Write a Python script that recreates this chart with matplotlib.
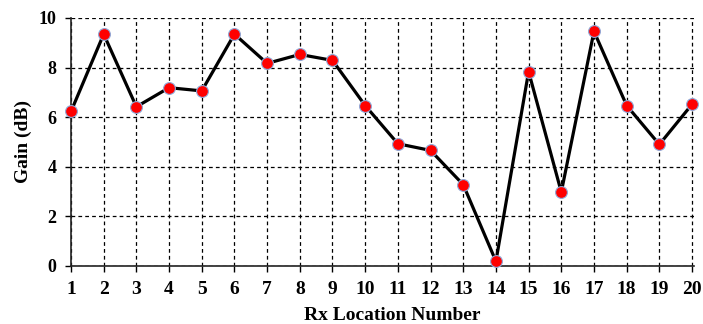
import numpy as np
import matplotlib
matplotlib.use('Agg')
from matplotlib import pyplot as plt

# data
rx_location = list(range(1, 21))
gain_db = [6.23, 9.35, 6.42, 7.19, 7.06, 9.35, 8.17, 8.53, 8.29, 6.47,
           4.93, 4.66, 3.28, 0.19, 7.84, 2.98, 9.46, 6.47, 4.90, 6.52]
y_ticks = [0, 2, 4, 6, 8, 10]

plt.rcParams['font.family'] = ['Liberation Serif', 'DejaVu Serif']
plt.rcParams['font.weight'] = 'bold'

fig = plt.figure(figsize=(7.03, 3.24), dpi=100)
# axes box in pixels: x 71 -> ~692, y 18 -> 266 (a hair wider so the x=20 grid line is not clipped)
ax = fig.add_axes([71/703, 1 - 266/324, 623/703, 248.5/324])

ax.plot(rx_location, gain_db, color='black', lw=2.3, marker='o', ms=8.5,
        mfc='red', mec='#8fa8d8', mew=0.8, zorder=5, clip_on=False)

ax.set_xlim(1, 20.06)
ax.set_ylim(0, 10.02)
ax.set_xticks(rx_location)
ax.set_yticks(y_ticks)
ax.grid(True, color='black', ls=(0, (3, 2.5)), lw=0.9)

for s in ['top', 'right']:
    ax.spines[s].set_visible(False)
for s in ['left', 'bottom']:
    ax.spines[s].set_linewidth(1.2)
    ax.spines[s].set_color('#222222')

ax.tick_params(axis='both', length=4.5, width=1.0, direction='out')
ax.tick_params(axis='x', labelsize=14, pad=6)
ax.tick_params(axis='y', labelsize=13, pad=6)
for lbl in ax.get_xticklabels() + ax.get_yticklabels():
    lbl.set_fontweight('bold')

ax.set_xlabel('Rx Location Number', fontsize=14, fontweight='bold')
ax.xaxis.set_label_coords(0.515, -0.165)
ax.set_ylabel('Gain (dB)', fontsize=14, fontweight='bold', labelpad=5)

fig.savefig('out.png', dpi=100)
